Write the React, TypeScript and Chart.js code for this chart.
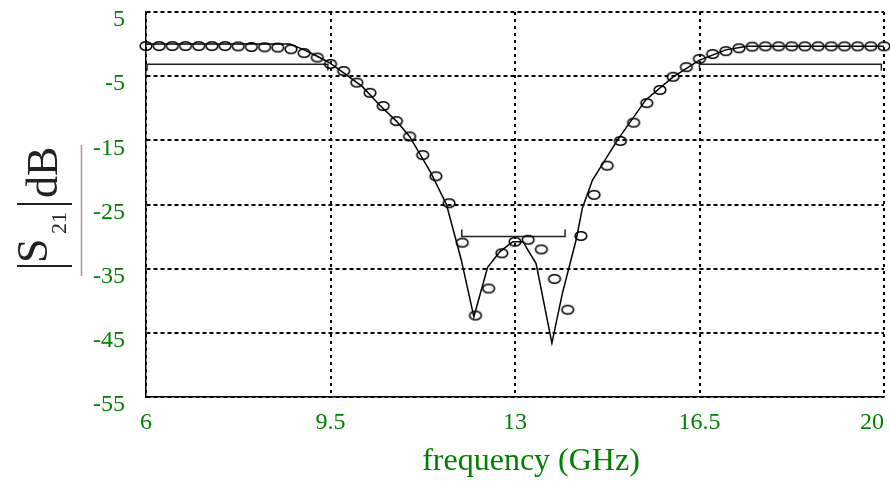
import { useEffect, useRef } from 'react';
import { Chart, registerables } from 'chart.js';

Chart.register(...registerables);

// ---- axis ticks ----
const xTicks = [6, 9.5, 13, 16.5, 20];
const yTicks = [5, -5, -15, -25, -35, -45, -55];

// ---- simulated |S21| (solid line) ----
const simFreq = [6, 8.73, 9.0, 9.25, 9.5, 9.75, 10.1, 10.43, 10.75, 11.0, 11.4, 11.7, 11.98, 12.22, 12.48, 12.72, 12.96, 13.15, 13.4, 13.7, 13.9, 14.16, 14.28, 14.47, 14.95, 15.48, 16.0, 16.5, 17.0, 17.4, 20];
const simDb = [0.0, 0.0, -0.9, -1.9, -3.0, -4.5, -6.6, -9.5, -12.0, -14.4, -20.0, -25.0, -33.6, -42.5, -34.8, -32.3, -30.8, -30.8, -34.2, -46.6, -38.8, -30.5, -25.5, -21.2, -14.9, -8.7, -5.1, -2.5, -0.9, -0.35, -0.35];

// ---- measured |S21| (circles) ----
const measFreq = [6.0, 6.25, 6.5, 6.75, 7.0, 7.25, 7.5, 7.75, 8.0, 8.25, 8.5, 8.75, 9.0, 9.25, 9.5, 9.75, 10.0, 10.25, 10.5, 10.75, 11.0, 11.25, 11.5, 11.75, 12.0, 12.25, 12.5, 12.75, 13.0, 13.25, 13.5, 13.75, 14.0, 14.25, 14.5, 14.75, 15.0, 15.25, 15.5, 15.75, 16.0, 16.25, 16.5, 16.75, 17.0, 17.25, 17.5, 17.75, 18.0, 18.25, 18.5, 18.75, 19.0, 19.25, 19.5, 19.75, 20.0];
const measDb = [-0.3, -0.3, -0.3, -0.3, -0.3, -0.3, -0.3, -0.35, -0.45, -0.5, -0.55, -0.8, -1.4, -2.1, -3.1, -4.2, -6.0, -7.6, -9.65, -12.0, -14.4, -17.3, -20.6, -24.8, -30.95, -42.3, -38.1, -32.6, -30.8, -30.5, -32.0, -36.6, -41.4, -29.9, -23.5, -18.95, -15.1, -12.25, -9.2, -7.15, -5.1, -3.6, -2.3, -1.55, -1.1, -0.65, -0.4, -0.35, -0.35, -0.35, -0.35, -0.35, -0.35, -0.35, -0.35, -0.35, -0.35];

// ---- specification masks ----
const maskLowFreq = [6.02, 6.02, 9.45, 9.45];
const maskLowDb = [-4.1, -3.15, -3.15, -4.1];
const maskHighFreq = [16.5, 16.5, 19.95, 19.95];
const maskHighDb = [-4.1, -3.15, -3.15, -4.1];
const passFreq = [11.99, 11.99, 13.95, 13.95];
const passDb = [-28.9, -30.0, -30.0, -28.9];

// ---- texts ----
const xTitle = 'frequency (GHz)';
const yTitleSymbol = 'S';
const yTitleSub = '21';
const yTitleUnit = 'dB';

const serif = "'Liberation Serif', 'Times New Roman', serif";
const green = '#008000';

const pts = (xs: number[], ys: number[]) => xs.map((x, i) => ({ x, y: ys[i] }));

export default function App() {
  const ref = useRef<HTMLCanvasElement>(null);

  useEffect(() => {
    const canvas = ref.current!;
    const marker = document.createElement('canvas');
    marker.width = 16;
    marker.height = 12;
    const mctx = marker.getContext('2d')!;
    mctx.lineWidth = 1.6;
    mctx.strokeStyle = '#000';
    mctx.beginPath();
    mctx.ellipse(8, 6, 5.8, 4.3, 0, 0, Math.PI * 2);
    mctx.stroke();

    const yTitlePlugin = {
      id: 'yTitleMath',
      afterDraw(chart: any) {
        const ctx = chart.ctx as CanvasRenderingContext2D;
        ctx.save();
        ctx.fillStyle = '#222';
        const rot = (text: string, x: number, y: number, size: number) => {
          ctx.save();
          ctx.translate(x, y);
          ctx.rotate(-Math.PI / 2);
          ctx.font = `${size}px ${serif}`;
          ctx.textAlign = 'left';
          ctx.textBaseline = 'alphabetic';
          ctx.fillText(text, 0, 0);
          ctx.restore();
        };
        rot(yTitleSymbol, 47, 263, 44);
        rot(yTitleSub, 66, 234, 22);
        rot(yTitleUnit, 57, 198, 44);
        ctx.strokeStyle = '#222';
        ctx.lineWidth = 2;
        ctx.beginPath();
        ctx.moveTo(17, 266);
        ctx.lineTo(72, 266);
        ctx.moveTo(17, 204);
        ctx.lineTo(72, 204);
        ctx.stroke();
        ctx.strokeStyle = '#999';
        ctx.lineWidth = 1.5;
        ctx.beginPath();
        ctx.moveTo(81.5, 145);
        ctx.lineTo(81.5, 276);
        ctx.stroke();
        ctx.restore();
      },
    };

    const lineDs = (data: any, color: string, width: number) => ({
      data,
      showLine: true,
      borderColor: color,
      borderWidth: width,
      pointRadius: 0,
      tension: 0,
      fill: false,
      clip: false as any,
    });

    const chart = new Chart(canvas, {
      type: 'scatter',
      data: {
        datasets: [
          {
            data: pts(measFreq, measDb),
            showLine: false,
            pointStyle: marker as any,
            pointRadius: 5,
            borderColor: '#000',
            backgroundColor: 'rgba(0,0,0,0)',
            clip: false as any,
          },
          lineDs(pts(simFreq, simDb), '#000', 1.5),
          lineDs(pts(maskLowFreq, maskLowDb), '#222', 1.5),
          lineDs(pts(maskHighFreq, maskHighDb), '#222', 1.5),
          lineDs(pts(passFreq, passDb), '#222', 1.5),
        ] as any,
      },
      options: {
        responsive: false,
        animation: false,
        devicePixelRatio: 1,
        layout: { padding: { top: 12, right: 5, left: 0, bottom: 0 } },
        plugins: { legend: { display: false }, tooltip: { enabled: false } },
        scales: {
          x: {
            type: 'linear',
            min: 6,
            max: 20,
            afterBuildTicks: (s: any) => {
              s.ticks = xTicks.map((v) => ({ value: v }));
            },
            afterFit: (s: any) => {
              s.height = 84;
              s.paddingLeft = 0;
              s.paddingRight = 0;
            },
            grid: { color: '#000', lineWidth: 2, drawTicks: false },
            border: { display: true, color: '#000', width: 1.5, dash: [3, 4] },
            ticks: {
              color: green,
              font: { family: serif, size: 24 },
              padding: 11,
              maxRotation: 0,
              autoSkip: false,
              callback: (v: any) => (Number(v) === 20 ? String(v) + '    ' : String(v)),
            },
            title: {
              display: true,
              text: '    ' + xTitle,
              color: green,
              font: { family: serif, size: 32 },
              padding: { top: 0, bottom: 0 },
            },
          },
          y: {
            type: 'linear',
            min: -55,
            max: 5,
            afterBuildTicks: (s: any) => {
              s.ticks = yTicks.map((v) => ({ value: v }));
            },
            afterFit: (s: any) => {
              s.width = 146;
              s.paddingTop = 0;
              s.paddingBottom = 0;
            },
            grid: { color: '#000', lineWidth: 2, drawTicks: false },
            border: { display: true, color: '#000', width: 1.5, dash: [4, 3] },
            ticks: {
              color: green,
              font: { family: serif, size: 24 },
              padding: 21,
              labelOffset: 8,
              autoSkip: false,
              callback: (v: any) => String(v),
            },
          },
        },
      } as any,
      plugins: [yTitlePlugin],
    });

    return () => chart.destroy();
  }, []);

  return (
    <canvas
      ref={ref}
      width={890}
      height={481}
      style={{ position: 'absolute', left: 0, top: 0, display: 'block' }}
    />
  );
}
